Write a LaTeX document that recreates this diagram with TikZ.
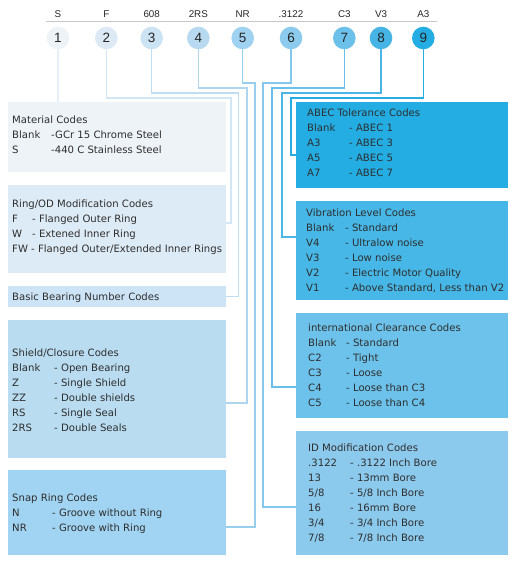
\documentclass[tikz,border=0pt]{standalone}
\usepackage{fontspec}
\setmainfont{DejaVu Sans}
\newfontfamily\hdrfont{Liberation Sans}
\definecolor{c1}{HTML}{EEF3F8}
\definecolor{c2}{HTML}{DDEAF5}
\definecolor{c3}{HTML}{CCE3F4}
\definecolor{c4}{HTML}{B8DAF0}
\definecolor{c5}{HTML}{9FD2F1}
\definecolor{c6}{HTML}{8CCAEE}
\definecolor{c7}{HTML}{6CC1EA}
\definecolor{c8}{HTML}{46B5E6}
\definecolor{c9}{HTML}{23ADE3}
\definecolor{l1}{HTML}{E6EEF6}
\definecolor{l2}{HTML}{D3E6F5}
\definecolor{l3}{HTML}{C0DEF3}
\definecolor{l4}{HTML}{AED6F0}
\definecolor{l5}{HTML}{98CFEF}
\definecolor{l6}{HTML}{86C8ED}
\definecolor{l7}{HTML}{6ABFEA}
\definecolor{l8}{HTML}{4BB6E6}
\definecolor{l9}{HTML}{27ACE2}
\definecolor{bx1}{HTML}{EEF3F8}
\definecolor{bx2}{HTML}{DDEBF6}
\definecolor{bx3}{HTML}{CDE4F6}
\definecolor{bx4}{HTML}{B9DCF1}
\definecolor{bx5}{HTML}{A1D4F2}
\definecolor{bx6}{HTML}{23ADE3}
\definecolor{bx7}{HTML}{46B7E6}
\definecolor{bx8}{HTML}{6CC2EA}
\definecolor{bx9}{HTML}{8CCAED}
\definecolor{txtc}{HTML}{2E2E2E}
\newcommand{\cc}[2]{\makebox[#1pt][l]{#2}}
\begin{document}
\begin{tikzpicture}[x=1pt,y=-1pt,
  circ/.style={circle,inner sep=0pt,minimum size=22.6pt,font=\hdrfont\fontsize{13.5}{14}\selectfont,text=black!85},
  lbl/.style={font=\hdrfont\fontsize{9.8}{10}\selectfont,anchor=base,inner sep=0pt,text=black!85},
  box/.style={rectangle,draw=none,inner sep=0pt,anchor=north west},
  txt/.style={anchor=base west,inner sep=0pt,align=left,font=\fontsize{10.1}{15}\selectfont,text=txtc},
  conn/.style={line width=1.5pt}]
\useasboundingbox[fill=white] (0,0) rectangle (515,561);
% header
\coordinate (hl) at (46,21.5);
\coordinate (hr) at (437,21.5);
\draw[black!22,line width=0.8pt] (hl) -- (hr);
\foreach \i/\x/\t in {1/58/S,2/106.3/F,3/151.7/608,4/198.3/2RS,5/242.7/NR,6/291/.3122,7/344.3/C3,8/381/V3,9/423.3/A3}{
  \node[lbl] (t\i) at (\x,17.3) {\t};
  \node[circ,fill=c\i] (n\i) at (\x,38) {\i};
}
% left boxes
\node[box,fill=bx1,minimum width=218pt,minimum height=70pt] (mat) at (8,102) {};
\node[box,fill=bx2,minimum width=218pt,minimum height=88pt] (ring) at (8,185) {};
\node[box,fill=bx3,minimum width=218pt,minimum height=21pt] (basic) at (8,286) {};
\node[box,fill=bx4,minimum width=218pt,minimum height=138pt] (shield) at (8,320) {};
\node[box,fill=bx5,minimum width=218pt,minimum height=85pt] (snap) at (8,470) {};
% right boxes
\node[box,fill=bx6,minimum width=212pt,minimum height=86pt] (abec) at (296,102) {};
\node[box,fill=bx7,minimum width=212pt,minimum height=99pt] (vib) at (296,201) {};
\node[box,fill=bx8,minimum width=212pt,minimum height=105pt] (clr) at (296,313) {};
\node[box,fill=bx9,minimum width=212pt,minimum height=124pt] (idm) at (296,431) {};
% texts (anchor = baseline of last line)
\node[txt] (matT) at (12,154) {Material Codes\\\cc{39}{Blank}-GCr 15 Chrome Steel\\\cc{39}{S}-440 C Stainless Steel};
\node[txt] (ringT) at (12,252) {Ring/OD Modification Codes\\\cc{20}{F}- Flanged Outer Ring\\\cc{20}{W}- Extened Inner Ring\\FW - Flanged Outer/Extended Inner Rings};
\node[txt] (basicT) at (12,300) {Basic Bearing Number Codes};
\node[txt] (shieldT) at (12,431) {Shield/Closure Codes\\\cc{42}{Blank}- Open Bearing\\\cc{42}{Z}- Single Shield\\\cc{42}{ZZ}- Double shields\\\cc{42}{RS}- Single Seal\\\cc{42}{2RS}- Double Seals};
\node[txt] (snapT) at (12,531) {Snap Ring Codes\\\cc{40}{N}- Groove without Ring\\\cc{40}{NR}- Groove with Ring};
\node[txt] (abecT) at (307,177) {ABEC Tolerance Codes\\\cc{42}{Blank}- ABEC 1\\\cc{42}{A3}- ABEC 3\\\cc{42}{A5}- ABEC 5\\\cc{42}{A7}- ABEC 7};
\node[txt] (vibT) at (306,291) {Vibration Level Codes\\\cc{39}{Blank}- Standard\\\cc{39}{V4}- Ultralow noise\\\cc{39}{V3}- Low noise\\\cc{39}{V2}- Electric Motor Quality\\\cc{39}{V1}- Above Standard, Less than V2};
\node[txt] (clrT) at (308,406) {international Clearance Codes\\\cc{38}{Blank}- Standard\\\cc{38}{C2}- Tight\\\cc{38}{C3}- Loose\\\cc{38}{C4}- Loose than C3\\\cc{38}{C5}- Loose than C4};
\node[txt] (idmT) at (308,541) {ID Modification Codes\\\cc{42}{.3122}- .3122 Inch Bore\\\cc{42}{13}- 13mm Bore\\\cc{42}{5/8}- 5/8 Inch Bore\\\cc{42}{16}- 16mm Bore\\\cc{42}{3/4}- 3/4 Inch Bore\\\cc{42}{7/8}- 7/8 Inch Bore};
% connectors
\draw[conn,l1] (n1.south) -- (mat.north -| n1);
\draw[conn,l2] (n2.south) |- (231,98) |- (ring.east |- 0,223);
\draw[conn,l3] (n3.south) |- (238.5,93) |- (basic.east);
\draw[conn,l4] (n4.south) |- (247,88) |- (shield.east |- 0,403);
\draw[conn,l5] (n5.south) |- (255,83) |- (snap.east |- 0,527);
\draw[conn,l6] (n6.south) |- (263,83) |- (idm.west |- 0,507);
\draw[conn,l7] (n7.south) |- (272,88) |- (clr.west |- 0,387);
\draw[conn,l8] (n8.south) |- (282,93) |- (vib.west |- 0,237);
\draw[conn,l9] (n9.south) |- (291,98) |- (abec.west |- 0,155);
\end{tikzpicture}
\end{document}
